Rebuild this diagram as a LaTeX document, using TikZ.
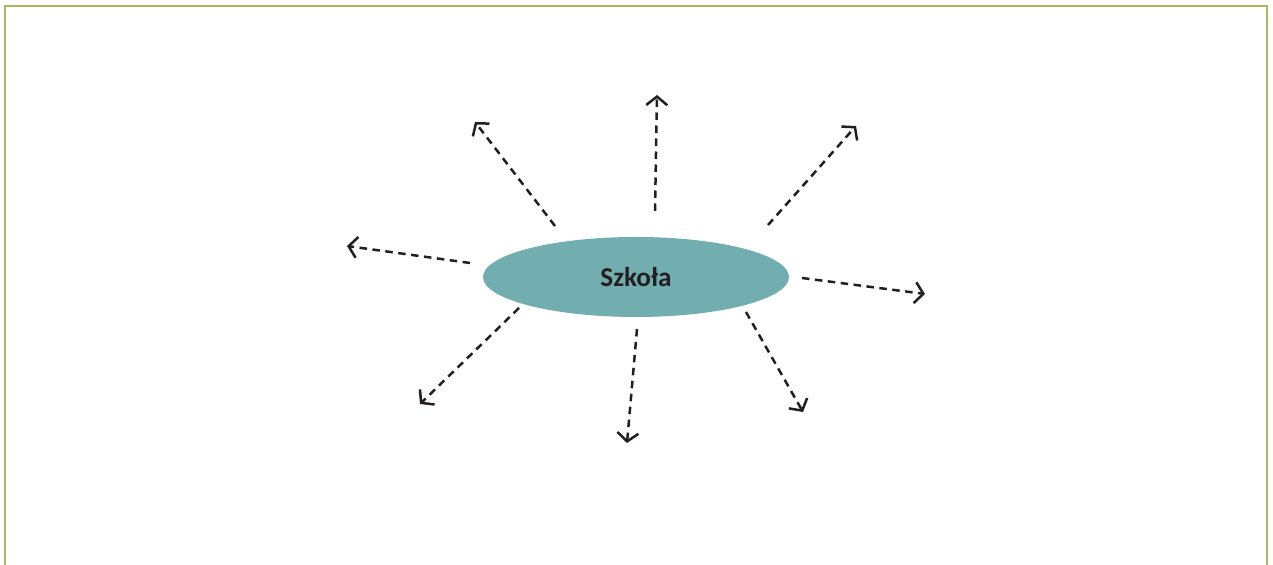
\documentclass[tikz,border=0pt]{standalone}
\usepackage{fontspec}
\setmainfont{Carlito}
\usepackage{tikz}
\usetikzlibrary{arrows.meta,shapes.geometric}
\definecolor{Frame}{HTML}{A9B95D}
\definecolor{Teal}{HTML}{72ADB0}
\definecolor{Ink}{HTML}{231F20}

\begin{document}
\begin{tikzpicture}[spoke/.style={dash pattern=on 0.15cm off 0.11cm,line width=0.05cm,Ink,-{Straight Barb[length=0.17cm,width=0.42cm,line width=0.05cm]}}]
  \useasboundingbox (0,0) rectangle (25.46,11.30);
  \draw[Frame,line width=0.05cm] (0.10,-0.2) |- (25.34,11.18) -- (25.34,-0.2);
  \node[ellipse,fill=Teal,inner sep=0pt,minimum width=6.12cm,minimum height=1.60cm,font=\bfseries\fontsize{15.5}{18}\selectfont,text=Ink] (school) at (12.72,5.76) {Szkoła};
  \coordinate (up0) at (13.10,7.08);   \coordinate (up) at (13.14,9.40);
  \coordinate (ul0) at (11.10,6.78);   \coordinate (ul) at (9.50,8.86);
  \coordinate (ur0) at (15.36,6.80);   \coordinate (ur) at (17.12,8.78);
  \coordinate (le0) at (9.40,6.04);    \coordinate (le) at (6.94,6.38);
  \coordinate (ri0) at (16.04,5.74);   \coordinate (ri) at (18.50,5.42);
  \coordinate (ll0) at (10.38,5.14);   \coordinate (ll) at (8.40,3.22);
  \coordinate (dn0) at (12.74,4.72);   \coordinate (dn) at (12.54,2.44);
  \coordinate (lr0) at (14.92,5.06);   \coordinate (lr) at (16.06,3.06);
  \draw[spoke] (up0)--(up);
  \draw[spoke] (ul0)--(ul);
  \draw[spoke] (ur0)--(ur);
  \draw[spoke] (le0)--(le);
  \draw[spoke] (ri0)--(ri);
  \draw[spoke] (ll0)--(ll);
  \draw[spoke] (dn0)--(dn);
  \draw[spoke] (lr0)--(lr);
\end{tikzpicture}
\end{document}
